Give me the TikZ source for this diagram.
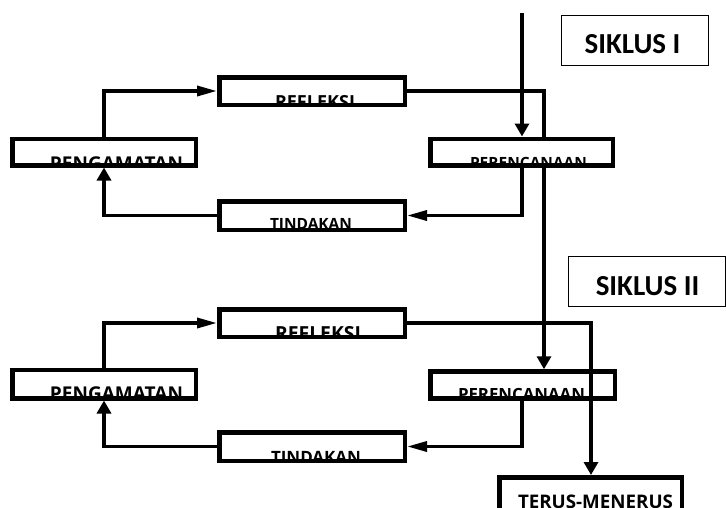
\documentclass[tikz,border=0pt]{standalone}
\usepackage{graphicx}
\usepackage{fontspec}
\setmainfont{Open Sans}
\newfontfamily\sikfont{Carlito}
\usetikzlibrary{arrows.meta}
\begin{document}
\begin{tikzpicture}[x=1pt,y=-1pt,
  box/.style={draw, line width=4.5pt, rectangle, inner sep=0pt, outer sep=2.25pt},
  lbl/.style={inner sep=0pt, outer sep=0pt, anchor=base, font=\bfseries},
  sbox/.style={draw, line width=1.3pt, rectangle, inner sep=0pt, outer sep=0pt},
  stxt/.style={inner sep=0pt, anchor=base, font=\sikfont\bfseries\fontsize{29}{29}\selectfont},
  conn/.style={line width=3.4pt},
  heavy/.style={line width=4.7pt},
  va/.style={-{Triangle[length=13pt,width=14pt]}},
  ha/.style={-{Triangle[length=20pt,width=10pt]}}
]
\useasboundingbox (0,0) rectangle (726,507);

% ---------- SIKLUS I ----------
\node[box, minimum width=183.5pt, minimum height=26.5pt,
  path picture={\node[lbl] (pg1t) at ([xshift=12.5pt,yshift=-18.5pt]path picture bounding box.center) {\resizebox{133pt}{!}{PENGAMATAN}};}]
  (pg1) at (104,152) {};
\node[box, minimum width=185.5pt, minimum height=27.5pt,
  path picture={\node[lbl] (rf1t) at ([xshift=3pt,yshift=-17pt]path picture bounding box.center) {\resizebox{80pt}{!}{REFLEKSI}};}]
  (rf1) at (312,91) {};
\node[box, minimum width=185.5pt, minimum height=28.5pt,
  path picture={\node[lbl] (td1t) at ([xshift=-1pt,yshift=-13.5pt]path picture bounding box.center) {\resizebox{82pt}{!}{TINDAKAN}};}]
  (td1) at (312,215.5) {};
\node[box, minimum width=182.5pt, minimum height=26.5pt,
  path picture={\node[lbl] (pr1t) at ([xshift=7pt,yshift=-16pt]path picture bounding box.center) {\resizebox{117pt}{!}{PERENCANAAN}};}]
  (pr1) at (521.5,152) {};

\node[sbox, minimum width=146.7pt, minimum height=49.7pt] (s1) at (635,40.5) {};
\node[stxt] (s1t) at (632.5,53) {SIKLUS I};

\coordinate (top) at (522,13);
\coordinate (pr1in) at ([xshift=22.5pt]pr1.north);
\coordinate (pr1out) at ([xshift=22.5pt]pr1.south);
\draw[heavy, va] (top) -- (pr1.north -| top);
\draw[conn] (rf1.east) -| (pr1in);
\draw[conn, ha] ([xshift=0.5pt]pr1.south) |- (td1.east);
\draw[conn, va] (td1.west) -| (pg1.south);
\draw[conn, ha] (pg1.north) |- (rf1.west);

% ---------- SIKLUS II ----------
\node[box, minimum width=183.5pt, minimum height=28.5pt,
  path picture={\node[lbl] (pg2t) at ([xshift=12.5pt,yshift=-16pt]path picture bounding box.center) {\resizebox{133pt}{!}{PENGAMATAN}};}]
  (pg2) at (104,384) {};
\node[box, minimum width=185.5pt, minimum height=27.5pt,
  path picture={\node[lbl] (rf2t) at ([xshift=6pt,yshift=-17pt]path picture bounding box.center) {\resizebox{86pt}{!}{REFLEKSI}};}]
  (rf2) at (312,323) {};
\node[box, minimum width=185.5pt, minimum height=28.5pt,
  path picture={\node[lbl] (td2t) at ([xshift=4pt,yshift=-16.5pt]path picture bounding box.center) {\resizebox{90pt}{!}{TINDAKAN}};}]
  (td2) at (312,446.5) {};
\node[box, minimum width=184.5pt, minimum height=27pt,
  path picture={\node[lbl] (pr2t) at ([xshift=-1pt,yshift=-15pt]path picture bounding box.center) {\resizebox{127pt}{!}{PERENCANAAN}};}]
  (pr2) at (522.5,385) {};
\node[box, minimum width=182.5pt, minimum height=35.5pt,
  path picture={\node[lbl] (tmt) at ([xshift=5pt,yshift=-13.5pt]path picture bounding box.center) {\resizebox{155pt}{!}{TERUS-MENERUS}};}]
  (tm) at (590.5,495) {};

\node[sbox, minimum width=156.7pt, minimum height=49.7pt] (s2) at (647,281.5) {};
\node[stxt] (s2t) at (647.5,295) {SIKLUS II};

\draw[heavy, va] (pr1out) -- (pr2.north -| pr1out);
\draw[conn, va] (rf2.east) -| ([xshift=0.5pt]tm.north);
\draw[conn, ha] ([xshift=-0.5pt]pr2.south) |- (td2.east);
\draw[conn, va] (td2.west) -| (pg2.south);
\draw[conn, ha] (pg2.north) |- (rf2.west);
\end{tikzpicture}
\end{document}
